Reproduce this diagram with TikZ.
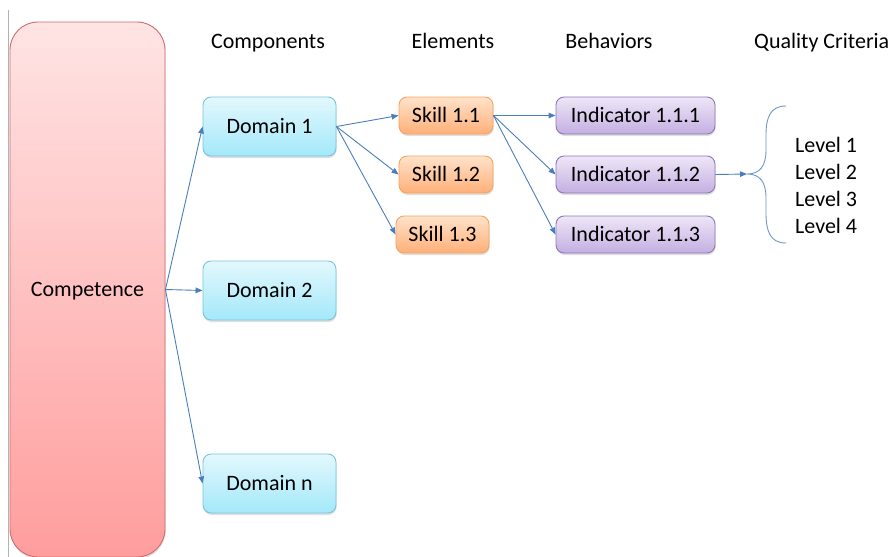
\documentclass[tikz,border=0pt]{standalone}
\usepackage{fontspec}
\setmainfont{Carlito}
\usetikzlibrary{arrows.meta,shadows,positioning}

\definecolor{comptop}{HTML}{FFE4E4}
\definecolor{compbot}{HTML}{FF9D9D}
\definecolor{compline}{HTML}{D06A6A}
\definecolor{domtop}{HTML}{E3F8FD}
\definecolor{dombot}{HTML}{A3E8FA}
\definecolor{domline}{HTML}{79C4D9}
\definecolor{skilltop}{HTML}{FFE2CA}
\definecolor{skillbot}{HTML}{FFB078}
\definecolor{skillline}{HTML}{F5A35E}
\definecolor{indtop}{HTML}{EEE6F7}
\definecolor{indbot}{HTML}{C4AFE2}
\definecolor{indline}{HTML}{8E77B7}
\definecolor{linkblue}{HTML}{4A7EBB}

\begin{document}
\begin{tikzpicture}[x=1pt,y=-1pt,>={Triangle[length=7pt,width=5.5pt]},
    font=\fontsize{22}{27}\selectfont,
    label text/.style={text height=18pt,text depth=4pt},
    rbox/.style={draw,rounded corners=8pt,line width=0.9pt,inner sep=0pt,label text,
      drop shadow={shadow xshift=0.6pt,shadow yshift=-2pt,opacity=0.25}},
    compbox/.style={rbox,rounded corners=28pt,draw=compline,top color=comptop,
      bottom color=compbot,minimum width=155pt,minimum height=535pt},
    dombox/.style={rbox,draw=domline,top color=domtop,bottom color=dombot,
      minimum width=133pt,minimum height=59pt},
    skillbox/.style={rbox,draw=skillline,top color=skilltop,bottom color=skillbot,
      minimum width=94pt,minimum height=37pt},
    indbox/.style={rbox,draw=indline,top color=indtop,bottom color=indbot,
      minimum width=159pt,minimum height=37pt},
    link/.style={->,color=linkblue,line width=0.9pt}]
  \useasboundingbox (0,0) rectangle (892,557);
  \draw[black!30] (8,10) -- (8,557);

  % headings
  \node[label text] (hcomp) at (268,41) {Components};
  \node[label text] (helem) at (453,41) {Elements};
  \node[label text] (hbeh)  at (609,41) {Behaviors};
  \node[label text,anchor=west,inner sep=0pt] (hqual) at (754,41) {Quality Criteria};

  \node[compbox] (comp) at (87.5,289.5) {Competence};

  \node[dombox] (dom1) at (269.5,126.5) {Domain 1};
  \node[dombox] (dom2) at (269.5,290.5) {Domain 2};
  \node[dombox] (domn) at (269.5,483.5) {Domain n};

  \node[skillbox] (s11) at (446,115.5) {Skill 1.1};
  \node[skillbox] (s12) at (446,174.5) {Skill 1.2};
  \node[skillbox,minimum width=93pt] (s13) at (442.5,234.5) {Skill 1.3};

  \node[indbox] (i1) at (635.5,115.5) {Indicator 1.1.1};
  \node[indbox] (i2) at (635.5,174.5) {Indicator 1.1.2};
  \node[indbox] (i3) at (635.5,234.5) {Indicator 1.1.3};

  \coordinate (tip) at (747,174);
  \draw[linkblue!80,line width=0.9pt] (786,106) .. controls (770,106) and (766,118) .. (766,135)
    -- (766,150) .. controls (766,166) and (760,174) .. (tip)
    .. controls (760,174) and (766,182) .. (766,198)
    -- (766,213) .. controls (766,231) and (770,243) .. (786,243);
  \node[anchor=west,align=left,inner sep=0pt] (levels) at (795,185.5) {Level 1\\Level 2\\Level 3\\Level 4};

  \path[link]
    (comp.east) edge (dom1.west)
                edge (dom2.west)
                edge (domn.west)
    (dom1.east) edge (s11.west)
                edge (s12.west)
                edge (s13.west)
    (s11.east)  edge (i1.west)
                edge (i2.west)
                edge (i3.west)
    (i2.east)   edge (tip);
\end{tikzpicture}
\end{document}
